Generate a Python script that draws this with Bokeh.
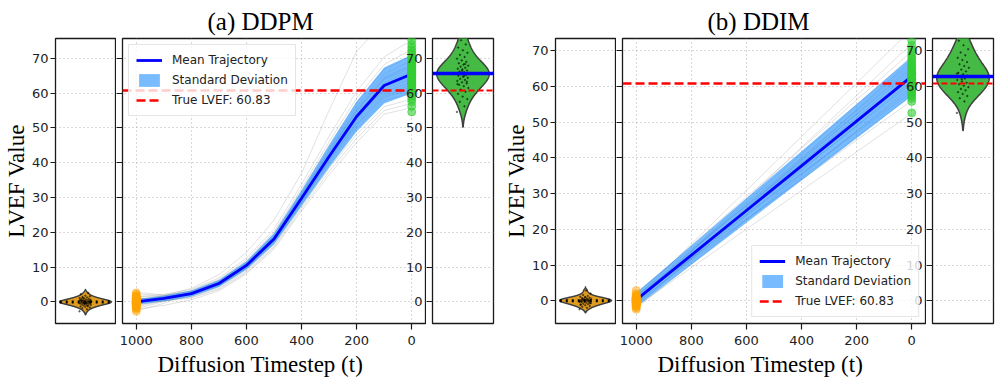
import numpy as np
from bokeh.plotting import figure
from bokeh.layouts import row
from bokeh.models import Range1d, FixedTicker, LinearAxis, Legend, LegendItem, Title
from bokeh.embed import file_html
from bokeh.resources import INLINE

# ---------------- data ----------------
y_ticks = [0, 10, 20, 30, 40, 50, 60, 70]
x_ticks = [1000, 800, 600, 400, 200, 0]
true_lvef = 60.83
panel_titles = ["(a) DDPM", "(b) DDIM"]
legend_labels = ["Mean Trajectory", "Standard Deviation", "True LVEF: 60.83"]

# DDPM
ddpm_t = [1000, 900, 800, 700, 600, 500, 400, 300, 200, 100, 0]
ddpm_mean = [0.0, 1.0, 2.4, 5.3, 10.5, 18.1, 29.8, 41.8, 53.3, 62.2, 65.5]
ddpm_std = [0.8, 0.8, 0.9, 1.0, 1.2, 1.6, 2.2, 3.2, 4.3, 5.2, 5.5]
ddpm_traj = [
    [-2.1, -1.0, 0.6, 3.2, 8.1, 15.2, 26.1, 36.5, 45.8, 54.0, 55.8],
    [1.2, 0.5, 1.3, 3.9, 8.8, 16.0, 27.3, 38.4, 48.2, 56.1, 58.3],
    [-0.8, 0.2, 1.6, 4.3, 9.2, 16.6, 27.9, 39.5, 49.8, 57.9, 59.9],
    [0.5, 1.4, 2.0, 4.6, 9.6, 17.1, 28.4, 40.1, 50.6, 58.8, 61.0],
    [2.3, 1.8, 2.1, 4.8, 9.9, 17.4, 28.8, 40.6, 51.4, 59.8, 62.4],
    [-1.5, 0.4, 2.2, 5.0, 10.1, 17.6, 29.1, 41.0, 52.1, 60.5, 63.1],
    [0.9, 1.3, 2.6, 5.2, 10.3, 17.9, 29.4, 41.4, 52.6, 61.1, 64.1],
    [-0.3, 0.8, 2.3, 5.3, 10.4, 18.0, 29.7, 41.7, 53.1, 61.8, 64.8],
    [1.7, 1.5, 2.5, 5.4, 10.6, 18.2, 29.9, 42.0, 53.6, 62.5, 65.7],
    [-1.1, 0.6, 2.6, 5.5, 10.7, 18.4, 30.2, 42.4, 54.1, 63.1, 66.5],
    [0.2, 1.2, 2.7, 5.7, 10.9, 18.6, 30.6, 42.9, 54.8, 63.9, 67.3],
    [2.8, 2.0, 2.9, 5.8, 11.1, 18.9, 31.0, 43.5, 55.4, 64.6, 68.2],
    [-2.6, -0.4, 2.8, 6.0, 11.3, 19.2, 31.4, 44.1, 56.2, 65.5, 69.4],
    [0.7, 1.9, 3.1, 6.2, 11.6, 19.6, 32.0, 45.0, 57.3, 66.8, 70.8],
    [-0.6, 1.6, 3.3, 6.5, 12.0, 20.1, 32.7, 46.0, 58.6, 68.2, 72.6],
    [1.4, 2.2, 3.6, 6.9, 12.6, 20.9, 33.8, 47.6, 60.5, 70.4, 75.3],
    [0.3, 1.8, 3.9, 7.8, 14.2, 23.5, 37.0, 55.0, 72.0, 80.5, 83.0],
    [-1.9, 0.1, 1.9, 4.7, 9.7, 17.3, 28.6, 40.9, 51.0, 59.2, 61.8],
    [1.0, 0.9, 2.4, 5.6, 11.0, 18.8, 30.8, 43.2, 55.0, 64.2, 67.9],
    [0.0, 0.3, 1.1, 3.6, 8.4, 15.6, 26.7, 37.4, 47.0, 55.0, 57.1],
]
ddpm_init = [-2.7, -2.1, -1.8, -1.6, -1.4, -1.3, -1.1, -1.0, -0.9, -0.8, -0.7, -0.6,
             -0.5, -0.45, -0.4, -0.3, -0.25, -0.2, -0.1, -0.05, 0.0, 0.05, 0.1, 0.2,
             0.25, 0.3, 0.4, 0.45, 0.5, 0.6, 0.7, 0.8, 0.9, 1.0, 1.1, 1.3, 1.4, 1.6,
             1.8, 2.2, 2.6, -0.15, 0.15, -0.35, 0.35, 0.0, -0.55, 0.55, -1.2, 1.2]
ddpm_final = [54.6, 56.2, 57.5, 58.3, 59.0, 59.8, 60.4, 61.0, 61.5, 62.0, 62.4, 62.8,
              63.1, 63.5, 63.8, 64.1, 64.4, 64.7, 65.0, 65.2, 65.5, 65.7, 66.0, 66.2,
              66.5, 66.8, 67.0, 67.3, 67.6, 67.9, 68.2, 68.6, 69.0, 69.4, 69.9, 70.4,
              71.0, 71.6, 72.3, 73.1, 74.0, 75.2, 76.5, 64.9, 65.8, 63.3, 66.4, 62.6,
              68.4, 60.9]

# DDIM
ddim_t = [1000, 800, 600, 400, 200, 0]
ddim_mean = [0.3, 12.8, 25.3, 37.8, 50.3, 62.8]
ddim_std = [2.0, 2.7, 3.4, 4.1, 4.8, 5.5]
ddim_traj_t = [1000, 0]
ddim_traj_start = [-1.5, 0.8, -0.4, 1.6, 0.2, -2.1, 1.1, -0.8, 0.5, 2.4,
                   -1.0, 0.0, 1.3, -0.2, 0.7, -1.7, 0.4, 1.9, -0.6, 0.9]
ddim_traj_end = [52.5, 56.0, 57.5, 58.4, 59.2, 60.0, 60.8, 61.5, 62.2, 62.9,
                 63.5, 64.2, 64.9, 65.6, 66.4, 67.3, 68.4, 69.8, 72.0, 76.0]
ddim_init = [-2.3, -1.9, -1.6, -1.4, -1.2, -1.0, -0.9, -0.8, -0.6, -0.5, -0.4, -0.3,
             -0.2, -0.1, 0.0, 0.1, 0.15, 0.2, 0.3, 0.4, 0.5, 0.6, 0.7, 0.8, 0.9, 1.0,
             1.2, 1.4, 1.7, 2.1, 2.9, -0.05, 0.05, 0.25, -0.25, 0.35, 0.55, -0.65,
             1.1, -1.1]
ddim_final = [52.6, 55.8, 56.7, 57.3, 57.9, 58.4, 58.9, 59.3, 59.8, 60.2, 60.6, 61.0,
              61.4, 61.8, 62.2, 62.6, 63.0, 63.4, 63.8, 64.2, 64.7, 65.2, 65.7, 66.2,
              66.8, 67.4, 68.0, 68.7, 69.5, 70.4, 71.5, 72.8, 74.5, 62.0, 63.6]

# ---------------- styling ----------------
H = 383
TOP = 38
SERIF = "Liberation Serif"
SANS = "DejaVu Sans"
TICK_FS = "13px"
GRID_COLOR = "#b0b0b0"
ORANGE_V = "#df9c20"
GREEN_V = "#45ba45"
EDGE = "#1a1a1a"


def base_fig(width, xr, yr, bl, br, bottom, tick_out, standoff=4):
    p = figure(width=width, height=H, x_range=xr, y_range=yr, title=None,
               output_backend="svg", toolbar_location=None,
               min_border_left=bl, min_border_right=br,
               min_border_top=TOP, min_border_bottom=bottom)
    p.outline_line_color = EDGE
    p.outline_line_width = 1.3
    p.background_fill_color = "white"
    p.border_fill_color = "white"
    p.xgrid.visible = False
    p.ygrid.ticker = FixedTicker(ticks=y_ticks)
    p.ygrid.grid_line_color = GRID_COLOR
    p.ygrid.grid_line_dash = "1 3"
    p.ygrid.grid_line_width = 1
    for ax in p.yaxis:
        ax.ticker = FixedTicker(ticks=y_ticks)
        ax.major_tick_out = tick_out
        ax.major_tick_in = 0
        ax.minor_tick_out = 0
        ax.minor_tick_in = 0
        ax.axis_line_color = None
        ax.major_tick_line_color = EDGE
        ax.major_tick_line_width = 1.2
        ax.major_label_text_font = SANS
        ax.major_label_text_font_size = TICK_FS
        ax.major_label_text_color = "#222222"
        ax.major_label_standoff = standoff
    return p


def hide_labels(ax, ticks):
    ax.major_label_overrides = {t: "" for t in ticks}
    ax.major_label_standoff = 0


def kde_outline(vals, half):
    v = np.asarray(vals, dtype=float)
    bw = v.std(ddof=1) * len(v) ** (-0.2)
    grid = np.linspace(v.min() - 2 * bw, v.max() + 2 * bw, 240)
    dens = np.exp(-0.5 * ((grid[:, None] - v[None, :]) / bw) ** 2).sum(axis=1)
    w = dens / dens.max() * half
    xs = np.concatenate([-w, w[::-1]])
    ys = np.concatenate([grid, grid[::-1]])
    return xs, ys, grid, w


def jitter(n, spread):
    k = np.arange(n)
    return ((k * 0.6180339887) % 1.0 - 0.5) * spread


def violin(p, vals, color):
    xs, ys, grid, w = kde_outline(vals, 0.43)
    p.patch(xs, ys, fill_color=color, line_color="#3f3f3f", line_width=1.5)
    p.scatter(jitter(len(vals), 0.2), vals, size=1.5, color="black", alpha=0.45)
    return grid, w


def build_panel(title, t, mean, std, traj_xs, traj_ys, init, final, yr,
                legend_loc, frame_h, r_border, r_frame):
    init_t = t[0]
    final_t = t[-1]
    bottom = H - TOP - frame_h
    # left violin (initial distribution)
    pl = base_fig(55 + 60 + 1, Range1d(-0.5, 0.5), yr, 55, 1, bottom, 5, standoff=2)
    pl.xaxis.visible = False
    pl.yaxis.axis_label = "LVEF Value"
    pl.yaxis.axis_label_text_font = SERIF
    pl.yaxis.axis_label_text_font_size = "23px"
    pl.yaxis.axis_label_text_font_style = "normal"
    pl.yaxis.axis_label_text_color = "black"
    pl.yaxis.axis_label_standoff = 0
    grid, w = violin(pl, init, ORANGE_V)
    m0 = float(np.mean(init))
    half_at = float(np.interp(m0, grid, w))
    pl.line([-half_at, half_at], [m0, m0], line_color="black", line_width=3, line_dash="2 4")

    # middle trajectory plot
    xr = Range1d(1050, -50)
    pm = base_fig(6 + 303 + 1, xr, yr, 6, 1, bottom, 6)
    hide_labels(pm.yaxis[0], y_ticks)
    pm.xgrid.visible = True
    pm.xgrid.ticker = FixedTicker(ticks=x_ticks)
    pm.xgrid.grid_line_color = GRID_COLOR
    pm.xgrid.grid_line_dash = "1 3"
    xa = pm.xaxis[0]
    xa.ticker = FixedTicker(ticks=x_ticks)
    xa.major_tick_out = 6
    xa.major_tick_in = 0
    xa.minor_tick_out = 0
    xa.minor_tick_in = 0
    xa.axis_line_color = None
    xa.major_tick_line_color = EDGE
    xa.major_tick_line_width = 1.2
    xa.major_label_text_font = SANS
    xa.major_label_text_font_size = TICK_FS
    xa.major_label_text_color = "#222222"
    xa.major_label_standoff = 6

    pm.multi_line(traj_xs, traj_ys, line_color="gray", line_alpha=0.24, line_width=1)
    lo = np.asarray(mean) - np.asarray(std)
    hi = np.asarray(mean) + np.asarray(std)
    r_band = pm.varea(x=t, y1=lo, y2=hi, fill_color="dodgerblue", fill_alpha=0.6)
    r_mean = pm.line(t, mean, line_color="blue", line_width=2.8)
    r_true = pm.hspan(y=[true_lvef], line_color="red", line_width=2.5, line_dash="9 4")
    pm.scatter(np.full(len(init), init_t), init, size=8, color="orange", alpha=0.45)
    pm.scatter(np.full(len(final), final_t), final, size=8, color="limegreen", alpha=0.6)

    legend = Legend(items=[LegendItem(label=legend_labels[0], renderers=[r_mean]),
                           LegendItem(label=legend_labels[1], renderers=[r_band]),
                           LegendItem(label=legend_labels[2], renderers=[r_true])],
                    location=legend_loc, margin=6, padding=7, spacing=4,
                    glyph_width=26, glyph_height=16, label_height=16,
                    label_standoff=10, label_text_font=SANS, label_text_font_size="12px",
                    label_text_color="#222222",
                    background_fill_color="white", background_fill_alpha=0.8,
                    border_line_color="#cccccc", border_line_width=1)
    pm.add_layout(legend)

    # tick labels of the right violin axis, which overlap the trajectory panel
    fixed = LinearAxis(fixed_location=xr.end, ticker=FixedTicker(ticks=y_ticks),
                       major_tick_out=0, major_tick_in=0, minor_tick_out=0, minor_tick_in=0,
                       axis_line_color=None, major_label_standoff=3,
                       major_label_text_font=SANS, major_label_text_font_size=TICK_FS,
                       major_label_text_color="#222222")
    pm.add_layout(fixed, "left")

    tt = Title(text=title, align="left", offset=85, standoff=8,
               text_font=SERIF, text_font_size="25px", text_font_style="normal",
               text_color="black")
    pm.add_layout(tt, "above")

    xl = Title(text="Diffusion Timestep (t)", align="left", offset=35, standoff=4,
               text_font=SERIF, text_font_size="23px", text_font_style="normal",
               text_color="black")
    pm.add_layout(xl, "below")

    # right violin (final distribution)
    pr = base_fig(6 + r_frame + r_border, Range1d(-0.5, 0.5), yr, 6, r_border, bottom, 6)
    pr.xaxis.visible = False
    hide_labels(pr.yaxis[0], y_ticks)
    violin(pr, final, GREEN_V)
    pr.hspan(y=[mean[-1]], line_color="blue", line_width=3.5)
    pr.hspan(y=[true_lvef], line_color="red", line_width=2, line_dash="6 3")
    return [pl, pm, pr]


panel_a = build_panel(panel_titles[0], ddpm_t, ddpm_mean, ddpm_std,
                      [ddpm_t] * len(ddpm_traj), ddpm_traj, ddpm_init, ddpm_final,
                      Range1d(-6.2, 75.7), "top_left", 287, 7, 61)

ddim_xs = [ddim_traj_t] * len(ddim_traj_start)
ddim_ys = [[s, e] for s, e in zip(ddim_traj_start, ddim_traj_end)]
panel_b = build_panel(panel_titles[1], ddim_t, ddim_mean, ddim_std,
                      ddim_xs, ddim_ys, ddim_init, ddim_final,
                      Range1d(-6.3, 73.4), "bottom_right", 285, 4, 61)

layout = row(*panel_a, *panel_b, spacing=0)
open("out.html", "w").write(file_html(layout, INLINE))
